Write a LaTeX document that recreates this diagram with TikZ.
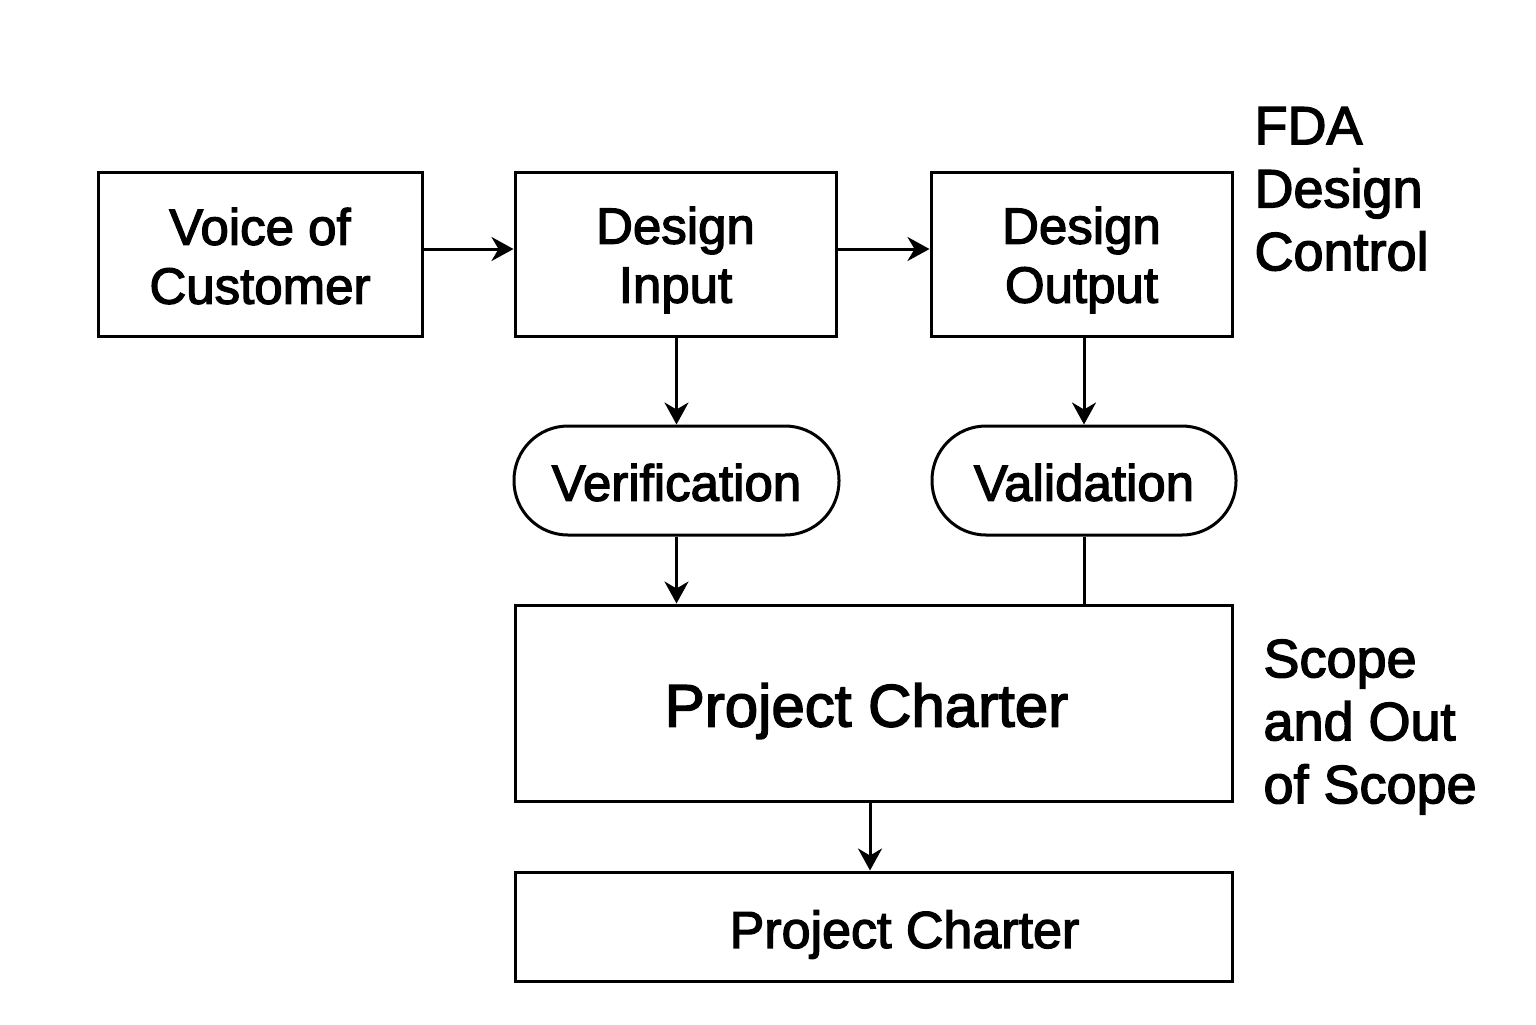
\documentclass[tikz,border=0pt]{standalone}
\usepackage{fontspec}
\setmainfont{Liberation Sans}[BoldFont=Liberation Sans, BoldFeatures={FakeBold=2.5}]
\usetikzlibrary{arrows.meta}
\newcommand{\dn}[2]{\raisebox{-#1}[\height][\depth]{#2}}
\begin{document}
\begin{tikzpicture}[x=0.5pt,y=-0.5pt, line width=1.5pt,
  box/.style={draw, rectangle, inner sep=0pt, align=center, font=\bfseries\fontsize{25.5}{29.5}\selectfont},
  pill/.style={box, rounded corners=27pt, minimum height=54.5pt},
  side/.style={anchor=west, align=left, inner sep=0pt, font=\bfseries\fontsize{27}{31.5}\selectfont},
  arr/.style={-{Stealth[length=11pt,width=12pt,inset=3.5pt]}}]
\fill[white] (0,0) rectangle (1536,1024);
\useasboundingbox (0,0) rectangle (1536,1024);

\node[box, minimum width=162pt, minimum height=82pt] (voc) at (260,254) {\dn{1pt}{Voice of}\\\dn{1pt}{Customer}};
\node[box, minimum width=160.5pt, minimum height=82pt] (di) at (675.5,254) {\dn{3pt}{Design}\\\dn{3pt}{Input}};
\node[box, minimum width=150.5pt, minimum height=82pt] (do) at (1081.5,254) {\dn{3pt}{Design}\\\dn{3pt}{Output}};
\node[pill, minimum width=162.5pt] (ver) at (676.5,480.5) {\dn{1pt}{Verification}};
\node[pill, minimum width=152pt] (val) at (1084,480.5) {\dn{1pt}{Validation}};
\node[box, minimum width=358.5pt, minimum height=98pt, font=\bfseries\fontsize{30}{35}\selectfont] (pc) at (873.5,703) {\hspace*{-7pt}\dn{4pt}{Project Charter}};
\node[box, minimum width=358.5pt, minimum height=54.5pt, font=\bfseries\fontsize{26}{30}\selectfont] (pcs) at (873.5,926.5) {\hspace*{31pt}\dn{4pt}{Project Charter}};

\node[side] (fda) at (1253,189) {FDA\\Design\\Control};
\node[side] (scope) at (1262,727) {Scope\\and Out\\of Scope};

\draw[arr] ([yshift=2.5pt]voc.east) -- ([yshift=2.5pt]di.west);
\draw[arr] ([yshift=2.5pt]di.east) -- ([yshift=2.5pt]do.west);
\draw[arr] (ver.north |- di.south) -- (ver.north);
\draw[arr] (val.north |- do.south) -- (val.north);
\draw[arr] (ver.south) -- (ver.south |- pc.north);
\draw (val.south) -- (val.south |- pc.north);
\draw[arr] ([xshift=-1.75pt]pc.south) -- ([xshift=-1.75pt]pcs.north);
\end{tikzpicture}
\end{document}
